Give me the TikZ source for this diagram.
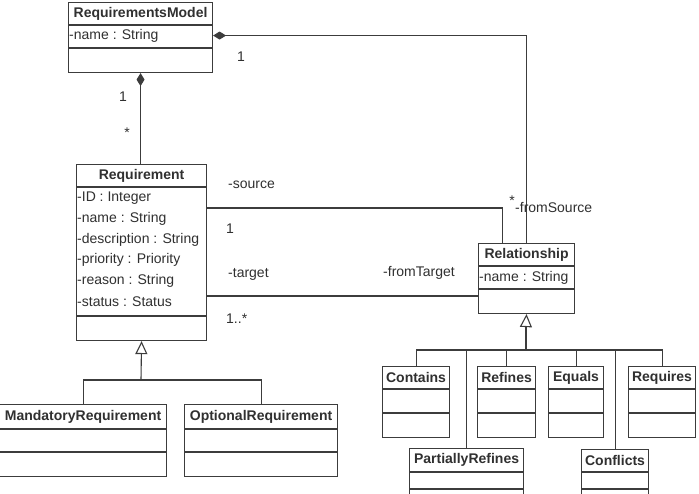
\documentclass[tikz,border=0pt]{standalone}
\usepackage{fontspec}
\setmainfont{Liberation Sans}
\usetikzlibrary{arrows.meta}
\definecolor{linec}{HTML}{3C3C3C}
\definecolor{textc}{HTML}{303030}
\tikzset{
  cls/.style={draw=linec, line width=1.1pt, fill=white, inner sep=0pt, anchor=north west},
  cline/.style={draw=linec, line width=1.1pt},
  ttl/.style={font=\fontsize{14pt}{16pt}\selectfont\bfseries, text=textc, inner sep=0pt},
  attr/.style={font=\fontsize{14pt}{16pt}\selectfont, text=textc, inner sep=0pt, anchor=west},
  lbl/.style={font=\fontsize{14pt}{16pt}\selectfont, text=textc, inner sep=0pt},
  conn/.style={draw=linec, line width=1.1pt},
  comp/.style={conn, {Diamond[length=13pt,width=8pt,fill=linec]}-},
  gen/.style={conn, -{Triangle[open,length=13pt,width=12pt,fill=white]}},
}
\newcommand\classbox[8]{%
  \node[cls, minimum width=#4pt, minimum height=#5pt] (#1) at (#2,#3) {};
  \draw[cline] ([yshift={-#7pt}]#1.north west) -- ([yshift={-#7pt}]#1.north east);
  \draw[cline] ([yshift={-#8pt}]#1.north west) -- ([yshift={-#8pt}]#1.north east);
  \node[ttl] (#1-t) at ([yshift={-0.5*#7pt}]#1.north) {#6};
}
\begin{document}
\begin{tikzpicture}[x=1pt,y=-1pt]
\useasboundingbox (0,0) rectangle (699,494);
\clip (0,0) rectangle (699,494);
\fill[white] (0,0) rectangle (699,494);

% classes
\classbox{rm}{68}{2}{144}{70}{RequirementsModel}{23}{46}
\classbox{req}{76}{164}{130}{176}{Requirement}{23}{152}
\classbox{mand}{-1}{404}{167}{72}{MandatoryRequirement}{25}{48}
\classbox{opt}{184}{404}{153}{72}{OptionalRequirement}{25}{48}
\classbox{rel}{478}{243}{96}{70}{Relationship}{23}{46}
\classbox{cont}{382}{366}{67}{71}{Contains}{23}{47}
\classbox{refi}{477}{366}{58}{71}{Refines}{23}{47}
\classbox{equ}{548}{366}{55}{71}{Equals}{23}{47}
\classbox{reqs}{628}{366}{67}{71}{Requires}{23}{47}
\classbox{pref}{409}{448}{114}{70}{PartiallyRefines}{24}{41}
\classbox{conf}{581}{449}{67}{70}{Conflicts}{23}{40}

% attributes
\node[attr] (rm-a1) at (69,36) {-name : String};
\node[attr] (req-a1) at (77,198) {-ID : Integer};
\node[attr] (req-a2) at (77,219) {-name : String};
\node[attr] (req-a3) at (77,240) {-description : String};
\node[attr] (req-a4) at (77,260) {-priority : Priority};
\node[attr] (req-a5) at (77,281) {-reason : String};
\node[attr] (req-a6) at (77,302) {-status : Status};
\node[attr] (rel-a1) at (479,278) {-name : String};

% compositions
\draw[comp] (rm.south) -- (rm.south |- req.north);
\draw[comp] ([yshift=2pt]rm.east) -| (rel.north);

% associations
\coordinate (srcA) at (206,208);
\coordinate (tgtA) at (206,296);
\draw[conn] (srcA) -| ([xshift=-24pt]rel.north);
\draw[conn] (tgtA) -- (rel.west |- tgtA);

% generalization Requirement
\coordinate (jr) at (141,380);
\draw[conn] (mand.north) |- (jr) -| (opt.north);
\draw[gen] (jr) -- (req.south);

% generalization Relationship
\coordinate (jl) at (526,350);
\coordinate (jt) at (526,325);
\draw[conn] (cont.north) |- (jl) -| (reqs.north);
\draw[conn] (pref.north) -- (pref.north |- jl);
\draw[conn] (refi.north) -- (refi.north |- jl);
\draw[conn] (equ.north) -- (equ.north |- jl);
\draw[conn] (conf.north) -- (conf.north |- jl);
\draw[conn, line width=2pt] (jl) -- (jt);
\draw[gen] (jt) -- (rel.south);

% labels
\node[lbl] (l1) at (241,57) {1};
\node[lbl] (l2) at (123,97) {1};
\node[lbl] (l3) at (127,133) {*};
\node[lbl, anchor=west] (l4) at (228,185) {-source};
\node[lbl, anchor=west] (l5) at (226,229) {1};
\node[lbl, anchor=west] (l6) at (228,274) {-target};
\node[lbl, anchor=west] (l7) at (226,319) {1..*};
\node[lbl, anchor=west] (l8) at (383,273) {-fromTarget};
\node[lbl] (l9) at (512,201) {*};
\node[lbl, anchor=west] (l10) at (515,208) {-fromSource};
\end{tikzpicture}
\end{document}
